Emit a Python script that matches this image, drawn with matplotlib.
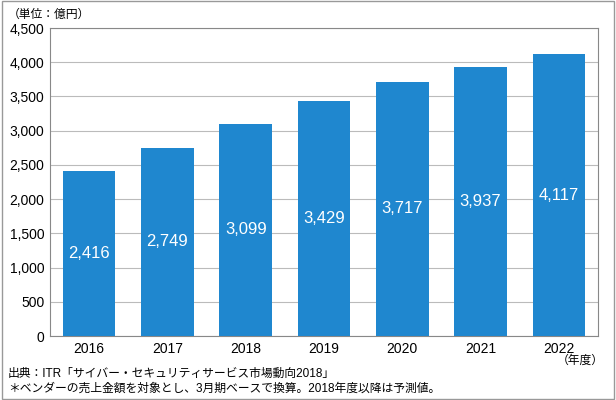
import matplotlib
matplotlib.use("Agg")
import matplotlib.pyplot as plt
from matplotlib.patches import Rectangle

years = ["2016", "2017", "2018", "2019", "2020", "2021", "2022"]
values = [2416, 2749, 3099, 3429, 3717, 3937, 4117]
yticks = [0, 500, 1000, 1500, 2000, 2500, 3000, 3500, 4000, 4500]

plt.rcParams["font.family"] = ["Liberation Sans", "Noto Sans CJK JP"]
fig = plt.figure(figsize=(6.16, 4.0), dpi=100)
fig.patches.append(Rectangle((0.003, 0.003), 0.994, 0.994, transform=fig.transFigure,
                             fill=False, edgecolor="#999999", linewidth=1))
ax = fig.add_axes([50/616, 1-336/400, 548/616, 308/400])
x = range(len(years))
bars = ax.bar(x, values, width=0.67, color="#1f87cf", zorder=3)
for i, v in enumerate(values):
    ax.text(i, v/2, f"{v:,}", ha="center", va="center", color="white", fontsize=12, zorder=4)
ax.set_xlim(-0.5, len(years)-0.5)
ax.set_ylim(0, 4500)
ax.set_yticks(yticks)
ax.set_yticklabels([f"{t:,}" for t in yticks], fontsize=10)
ax.set_xticks(list(x))
ax.set_xticklabels(years, fontsize=10)
ax.grid(axis="y", color="#bbbbbb", linewidth=0.8, zorder=0)
for s in ax.spines.values():
    s.set_color("#888888")
ax.tick_params(length=0, pad=4)
fig.text(8/616, 1-15/400, "（単位：億円）", fontsize=8.5, va="center")
fig.text(604/616, 1-361/400, "（年度）", fontsize=8.5, va="center", ha="right")
fig.text(8/616, 1-374/400, "出典：ITR「サイバー・セキュリティサービス市場動向2018」", fontsize=8.5, va="center")
fig.text(8/616, 1-389/400, "＊ベンダーの売上金額を対象とし、3月期ベースで換算。2018年度以降は予測値。", fontsize=8.5, va="center")
fig.savefig("out.png", dpi=100)
